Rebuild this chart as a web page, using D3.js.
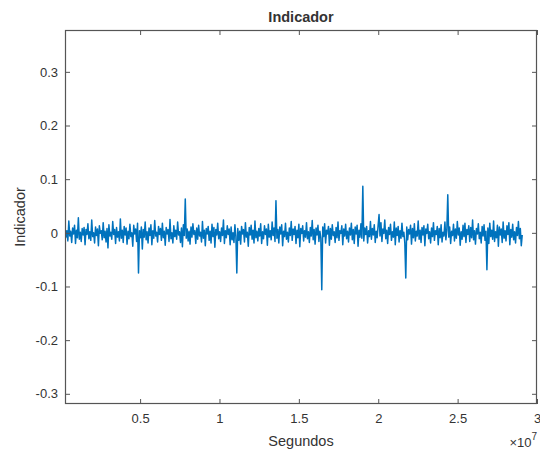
<!DOCTYPE html>
<html>
<head>
<meta charset="utf-8">
<script src="https://cdn.jsdelivr.net/npm/d3@7"></script>
<style>
  body { margin: 0; background: #fff; }
  svg text { font-family: "Liberation Sans", Arial, sans-serif; fill: #333; }
</style>
</head>
<body>
<div id="chart"></div>
<script>
// Indicador vs Segundos — one uniformly sampled trace
const tStart = 2.7e5;      // first sample, seconds
const tStep = 6.0125e4;    // sample spacing, seconds
// indicator values, in thousandths
const indicadorMil = [
  12, -8, 4, -15, 22, -6, 3, -18, 9, -2, 14, -20, 5, -9, 28, -12, 1, -16, 8, -4,
  10, -22, 6, -3, 17, -11, 2, -14, 24, -7, 0, -19, 11, -5, 7, -24, 13, -1, 4, -13,
  19, -9, 3, -17, 8, -28, 15, -6, 1, -12, 21, -3, 6, -20, 10, -8, 2, -15, 26, -10,
  5, -18, 12, -4, 9, -21, 3, -11, 16, -7, 0, -25, 14, -2, 7, -16, 18, -75, 4, -9,
  11, -30, 6, -8, 20, -13, 2, -19, 9, -5, 15, -22, 4, -10, 23, -6, 1, -17, 12, -3,
  8, -14, 18, -9, 3, -23, 10, -2, 6, -16, 25, -11, 0, -19, 13, -7, 5, -12, 20, -4,
  2, -18, 9, -26, 15, -5, 63, -10, 7, -15, 3, -21, 11, -8, 17, -3, 4, -20, 9, -12,
  14, -6, 1, -17, 21, -10, 5, -24, 8, -2, 12, -14, 3, -19, 16, -7, 10, -27, 6, -4,
  18, -11, 2, -16, 9, -5, 24, -20, 4, -9, 13, -3, 7, -22, 11, -13, 0, -18, 15, -6,
  -75, 8, -14, 3, -21, 12, -2, 6, -17, 19, -8, 1, -25, 10, -4, 14, -12, 5, -19, 22,
  -9, 3, -15, 8, -6, 17, -20, 2, -11, 13, -3, 7, -23, 16, -8, 4, -13, 20, -5, 9,
  -16, 60, -10, 6, -19, 11, -2, 15, -24, 3, -7, 18, -12, 1, -17, 9, -5, 21, -14, 7,
  -3, 12, -20, 5, -9, 16, -26, 8, -1, 13, -15, 4, -8, 19, -11, 2, -18, 10, -6, 23,
  -13, 6, -21, 9, -4, 14, -16, 3, -10, -106, 11, -7, 17, -19, 5, -2, 12, -23, 8, -12,
  15, -5, 2, -18, 10, -9, 20, -14, 4, -1, 13, -22, 7, -6, 16, -11, 3, -17, 9, -4,
  18, -13, 6, -20, 11, -2, 14, -25, 5, -8, 17, -10, 87, -15, 9, -3, 12, -19, 4, -7,
  21, -12, 8, -4, 15, -18, 3, -9, 13, 34, -6, 19, -16, 7, -1, 24, -11, 5, -20, 10,
  -3, 16, -14, 2, -8, 20, -22, 9, -5, 12, -17, 4, -10, 18, -7, 1, -19, -84, 11, -13,
  6, -2, 14, -21, 8, -9, 17, -15, 3, -6, 22, -12, 5, -18, 10, -4, 13, -24, 7, -1,
  16, -11, 2, -19, 9, -7, 19, -14, 4, -3, 12, -22, 8, -9, 15, -17, 1, -6, 20, -13,
  5, 71, -8, 11, -20, 3, -5, 16, -15, 7, -10, 21, -4, 9, -23, 2, -12, 14, -7, 18,
  -18, 6, -3, 13, -16, 10, -9, 24, -13, 4, -21, 8, -2, 17, -11, 1, -19, 12, -6, 15,
  -14, 3, -69, 9, -20, 18, -7, 5, -12, 22, -16, 2, -9, 14, -25, 11, -4, 7, -18, 20,
  -10, 4, -15, 13, -3, 19, -22, 6, -8, 16, -13, 2, -19, 10, -5, 21, -11, 8, -24, -4
];
const xTicks = [0.5e7, 1e7, 1.5e7, 2e7, 2.5e7, 3e7];
const xTickLabels = ["0.5", "1", "1.5", "2", "2.5", "3"];
const yTicks = [-0.3, -0.2, -0.1, 0, 0.1, 0.2, 0.3];
const yTickLabels = ["-0.3", "-0.2", "-0.1", "0", "0.1", "0.2", "0.3"];

const W = 540, H = 452;
const box = { left: 65, right: 537, top: 30, bottom: 404 };
const axisColor = "#555";

const x = d3.scaleLinear().domain([2.7e5, 3e7]).range([box.left, box.right]);
const y = d3.scaleLinear().domain([-0.319, 0.378]).range([box.bottom, box.top]);

const svg = d3.select("#chart").append("svg")
  .attr("width", W).attr("height", H);

svg.append("clipPath").attr("id", "plot-clip")
  .append("rect")
  .attr("x", box.left).attr("y", box.top)
  .attr("width", box.right - box.left).attr("height", box.bottom - box.top);

// trace
const series = indicadorMil.map((v, i) => ({ t: tStart + i * tStep, v: v / 1000 }));
const line = d3.line().x(d => x(d.t)).y(d => y(d.v));
svg.append("path")
  .datum(series)
  .attr("clip-path", "url(#plot-clip)")
  .attr("fill", "none")
  .attr("stroke", "#0072BD")
  .attr("stroke-width", 1.5)
  .attr("stroke-linejoin", "round")
  .attr("d", line);

// axes: inward ticks, mirrored on top/right (box on)
const tickLen = 5;
const styleAxis = (g, labels) => {
  g.select(".domain").remove();
  g.selectAll(".tick line").attr("stroke", axisColor);
  g.selectAll(".tick text").attr("font-size", 13).attr("fill", "#333");
  if (!labels) g.selectAll(".tick text").remove();
};

svg.append("g")
  .attr("transform", `translate(0,${box.bottom})`)
  .call(d3.axisBottom(x).tickValues(xTicks).tickSize(-tickLen).tickPadding(10)
    .tickFormat((d, i) => xTickLabels[i]))
  .call(g => styleAxis(g, true));

svg.append("g")
  .attr("transform", `translate(0,${box.top})`)
  .call(d3.axisTop(x).tickValues(xTicks).tickSize(-tickLen))
  .call(g => styleAxis(g, false));

svg.append("g")
  .attr("transform", `translate(${box.left},0)`)
  .call(d3.axisLeft(y).tickValues(yTicks).tickSize(-tickLen).tickPadding(7)
    .tickFormat((d, i) => yTickLabels[i]))
  .call(g => styleAxis(g, true));

svg.append("g")
  .attr("transform", `translate(${box.right},0)`)
  .call(d3.axisRight(y).tickValues(yTicks).tickSize(-tickLen))
  .call(g => styleAxis(g, false));

svg.append("rect")
  .attr("x", box.left + 0.5).attr("y", box.top + 0.5)
  .attr("width", box.right - box.left - 1).attr("height", box.bottom - box.top - 1)
  .attr("fill", "none")
  .attr("stroke", axisColor)
  .attr("stroke-width", 1.2);

// titles
const midX = (box.left + box.right) / 2;
svg.append("text")
  .attr("x", midX).attr("y", 22)
  .attr("text-anchor", "middle")
  .attr("font-size", 14.5).attr("font-weight", "bold")
  .attr("fill", "#111")
  .text("Indicador");

svg.append("text")
  .attr("x", midX).attr("y", 446)
  .attr("text-anchor", "middle")
  .attr("font-size", 14.5)
  .text("Segundos");

svg.append("text")
  .attr("transform", `translate(25,${(box.top + box.bottom) / 2}) rotate(-90)`)
  .attr("text-anchor", "middle")
  .attr("font-size", 14.5)
  .text("Indicador");

// exponent label
const expo = svg.append("text")
  .attr("x", 537).attr("y", 447)
  .attr("text-anchor", "end")
  .attr("font-size", 13);
expo.append("tspan").text("\u00d710");
expo.append("tspan").attr("dy", -7).attr("font-size", 10).text("7");
</script>
</body>
</html>
